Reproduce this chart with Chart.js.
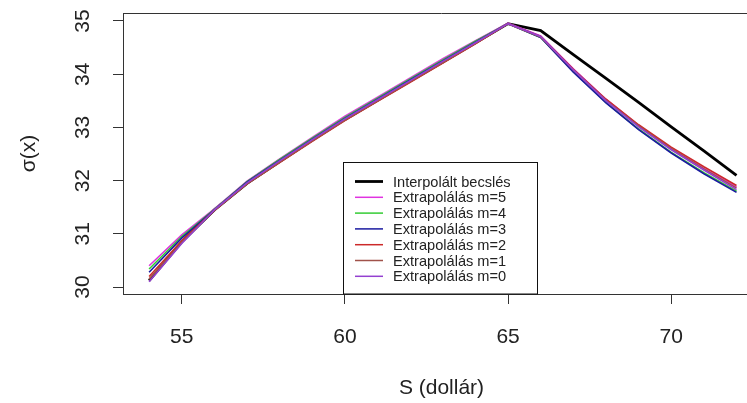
<!DOCTYPE html>
<html>
<head>
<meta charset="utf-8">
<script src="https://cdn.jsdelivr.net/npm/chart.js@4/dist/chart.umd.min.js"></script>
<style>
  html, body { margin: 0; padding: 0; background: #fff; overflow: hidden; }
  #wrap { width: 800px; height: 403px; }
</style>
</head>
<body>
<div id="wrap"><canvas id="chartCanvas" width="800" height="403"></canvas></div>
<script>
// S értékek (dollár)
const sValues = [54, 55, 56, 57, 58, 59, 60, 61, 62, 63, 64, 65, 66, 67, 68, 69, 70, 71, 72];

// becsült sigma(x) görbék
const interpolalt = [30.12, 30.85, 31.45, 31.95, 32.36, 32.76, 33.15, 33.51, 33.87, 34.23, 34.59, 34.95, 34.82, 34.37, 33.92, 33.47, 33.01, 32.56, 32.10];
const extrapM5 = [30.40, 30.98, 31.47, 31.99, 32.41, 32.81, 33.21, 33.57, 33.93, 34.29, 34.63, 34.96, 34.72, 34.10, 33.53, 33.04, 32.61, 32.23, 31.88];
const extrapM4 = [30.34, 30.95, 31.46, 31.98, 32.40, 32.80, 33.19, 33.55, 33.91, 34.27, 34.62, 34.95, 34.69, 34.05, 33.47, 32.97, 32.53, 32.15, 31.80];
const extrapM3 = [30.28, 30.92, 31.45, 31.97, 32.38, 32.78, 33.17, 33.53, 33.89, 34.25, 34.60, 34.95, 34.69, 34.04, 33.46, 32.96, 32.52, 32.13, 31.78];
const extrapM2 = [30.20, 30.87, 31.44, 31.94, 32.34, 32.74, 33.13, 33.49, 33.85, 34.21, 34.57, 34.95, 34.71, 34.09, 33.53, 33.05, 32.63, 32.26, 31.91];
const extrapM1 = [30.15, 30.84, 31.44, 31.94, 32.35, 32.75, 33.14, 33.50, 33.86, 34.22, 34.58, 34.95, 34.70, 34.08, 33.51, 33.03, 32.60, 32.22, 31.86];
const extrapM0 = [30.10, 30.82, 31.45, 31.96, 32.37, 32.77, 33.16, 33.52, 33.88, 34.24, 34.59, 34.95, 34.71, 34.08, 33.50, 33.01, 32.58, 32.20, 31.83];

const seriesLabels = ['Interpolált becslés', 'Extrapolálás m=5', 'Extrapolálás m=4', 'Extrapolálás m=3', 'Extrapolálás m=2', 'Extrapolálás m=1', 'Extrapolálás m=0'];
const seriesData = [interpolalt, extrapM5, extrapM4, extrapM3, extrapM2, extrapM1, extrapM0];
const seriesColors = ['#000000', '#e033e0', '#33cc33', '#1a1aa0', '#cc2a2a', '#a0524a', '#9440d0'];

const xTicks = [55, 60, 65, 70];
const yTicks = [30, 31, 32, 33, 34, 35];

const FONT = '"Liberation Sans", Arial, sans-serif';
const TEXT = '#222';

// dobozkeret teteje, y tengely feliratok, jelmagyarázat
const rStyle = {
    id: 'rStyle',
    afterDraw(chart) {
        const ctx = chart.ctx;
        const a = chart.chartArea;
        const ys = chart.scales.y;
        ctx.save();
        ctx.strokeStyle = '#333';
        ctx.lineWidth = 1;
        ctx.beginPath();
        ctx.moveTo(a.left, a.top + 0.5);
        ctx.lineTo(a.right, a.top + 0.5);
        ctx.stroke();

        // y tick labels, rotated like R
        ctx.fillStyle = TEXT;
        ctx.font = '21px ' + FONT;
        ctx.textAlign = 'center';
        ctx.textBaseline = 'middle';
        ys.ticks.forEach(t => {
            const py = ys.getPixelForValue(t.value);
            ctx.save();
            ctx.translate(83, py);
            ctx.rotate(-Math.PI / 2);
            ctx.fillText(String(t.value), 0, 0);
            ctx.restore();
        });

        // legend box
        const bx = 343, by = 162.5, bw = 194, bh = a.bottom - by;
        ctx.fillStyle = '#fff';
        ctx.fillRect(bx, by, bw, bh);
        ctx.strokeStyle = '#111';
        ctx.strokeRect(bx + 0.5, by, bw, bh);
        ctx.font = '14.6px ' + FONT;
        ctx.textAlign = 'left';
        ctx.textBaseline = 'middle';
        seriesLabels.forEach((lab, i) => {
            const ry = 181.5 + i * 15.8;
            ctx.strokeStyle = seriesColors[i];
            ctx.lineWidth = i === 0 ? 2.8 : 1.5;
            ctx.beginPath();
            ctx.moveTo(355, ry);
            ctx.lineTo(383, ry);
            ctx.stroke();
            ctx.fillStyle = TEXT;
            ctx.fillText(lab, 393, ry + 1);
        });
        ctx.restore();
    }
};

const datasets = seriesData.map((d, i) => ({
    label: seriesLabels[i],
    data: sValues.map((s, k) => ({ x: s, y: d[k] })),
    borderColor: seriesColors[i],
    borderWidth: i === 0 ? 2.8 : 1.6,
    pointRadius: 0,
    fill: false,
    tension: 0,
    order: seriesData.length - i
}));

new Chart(document.getElementById('chartCanvas'), {
    type: 'line',
    data: { datasets: datasets },
    options: {
        responsive: false,
        animation: false,
        events: [],
        layout: { padding: { top: 13, right: 40, left: 0, bottom: 0 } },
        plugins: { legend: { display: false }, tooltip: { enabled: false } },
        scales: {
            x: {
                type: 'linear',
                min: 53.2,
                max: 72.72,
                afterFit: s => { s.height = 109; },
                afterBuildTicks: s => { s.ticks = xTicks.map(v => ({ value: v })); },
                grid: { drawOnChartArea: false, drawTicks: true, tickLength: 10, color: '#333' },
                border: { display: true, color: '#333', width: 1 },
                ticks: { padding: 21, color: TEXT, font: { family: FONT, size: 21 } },
                title: { display: true, text: 'S (dollár)', color: TEXT, font: { family: FONT, size: 21 }, padding: { top: 0, bottom: 2 } }
            },
            y: {
                type: 'linear',
                min: 29.87,
                max: 35.15,
                afterFit: s => { s.width = 123; },
                afterBuildTicks: s => { s.ticks = yTicks.map(v => ({ value: v })); },
                grid: { drawOnChartArea: false, drawTicks: true, tickLength: 10, color: '#333' },
                border: { display: true, color: '#333', width: 1 },
                ticks: { display: false },
                title: { display: true, text: 'σ(x)', color: TEXT, font: { family: FONT, size: 21 }, padding: { top: 17, bottom: 0 } }
            }
        }
    },
    plugins: [rStyle]
});
</script>
</body>
</html>
